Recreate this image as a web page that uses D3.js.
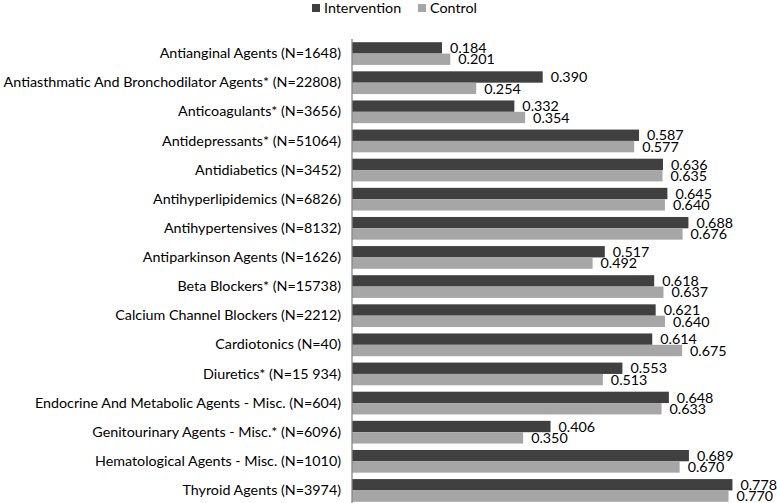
<!DOCTYPE html>
<html><head><meta charset="utf-8">
<script src="https://cdn.jsdelivr.net/npm/d3@7"></script>
<style>body{margin:0;background:#fff}svg{display:block}</style>
</head><body>
<svg id="c" width="777" height="503"></svg>
<script>
const categories = [
  "Antianginal Agents (N=1648)",
  "Antiasthmatic And Bronchodilator Agents* (N=22808)",
  "Anticoagulants* (N=3656)",
  "Antidepressants* (N=51064)",
  "Antidiabetics (N=3452)",
  "Antihyperlipidemics (N=6826)",
  "Antihypertensives (N=8132)",
  "Antiparkinson Agents (N=1626)",
  "Beta Blockers* (N=15738)",
  "Calcium Channel Blockers (N=2212)",
  "Cardiotonics (N=40)",
  "Diuretics* (N=15 934)",
  "Endocrine And Metabolic Agents - Misc. (N=604)",
  "Genitourinary Agents - Misc.* (N=6096)",
  "Hematological Agents - Misc. (N=1010)",
  "Thyroid Agents (N=3974)"
];
const intervention = [0.184,0.390,0.332,0.587,0.636,0.645,0.688,0.517,0.618,0.621,0.614,0.553,0.648,0.406,0.689,0.778];
const control      = [0.201,0.254,0.354,0.577,0.635,0.640,0.676,0.492,0.637,0.640,0.675,0.513,0.633,0.350,0.670,0.770];
const seriesNames = ["Intervention","Control"];
const seriesColors = ["#404040","#a6a6a6"];

const svg = d3.select("#c");
const font = "Lato, 'Open Sans', sans-serif";
const fs = 14.3;
const x0 = 352;
const x = d3.scaleLinear().domain([0, 0.8]).range([x0, x0 + 0.8*489]);
const y = d3.scaleBand().domain(categories).range([39, 505]).paddingInner(0.22).paddingOuter(0.11);
const ys = d3.scaleBand().domain(seriesNames).range([0, y.bandwidth()]);

const data = categories.map((c,i)=>({c, vals:[intervention[i], control[i]]}));

const g = svg.append("g");
const groups = g.selectAll("g.cat").data(data).join("g")
  .attr("transform", d=>`translate(0,${y(d.c)})`);
seriesNames.forEach((s,si)=>{
  groups.append("rect")
    .attr("x", x(0)).attr("y", ys(s))
    .attr("width", d=>x(d.vals[si]) - x(0))
    .attr("height", ys.bandwidth())
    .attr("fill", seriesColors[si]);
  groups.append("text")
    .attr("x", d=>x(d.vals[si]) + 8)
    .attr("y", ys(s) + ys.bandwidth()/2)
    .attr("dy", "0.36em")
    .attr("font-family", font).attr("font-size", fs).attr("fill", "#000")
    .text(d=>d.vals[si].toFixed(3));
});

const axis = svg.append("g").attr("transform", `translate(${x0},0)`)
  .call(d3.axisLeft(y).tickSize(0).tickPadding(11));
axis.select(".domain").attr("stroke", "#868686").attr("stroke-width", 1.3).attr("d", `M0,39V503`);
axis.selectAll("text").attr("font-family", font).attr("font-size", fs).attr("fill", "#000");

// legend
const leg = svg.append("g");
const legX = [312, 418];
seriesNames.forEach((s,i)=>{
  leg.append("rect").attr("x", legX[i]).attr("y", 4).attr("width", 8).attr("height", 8).attr("fill", seriesColors[i]);
  leg.append("text").attr("x", legX[i] + 12).attr("y", 13)
    .attr("font-family", font).attr("font-size", fs).attr("fill", "#000").text(s);
});
</script>
</body></html>
